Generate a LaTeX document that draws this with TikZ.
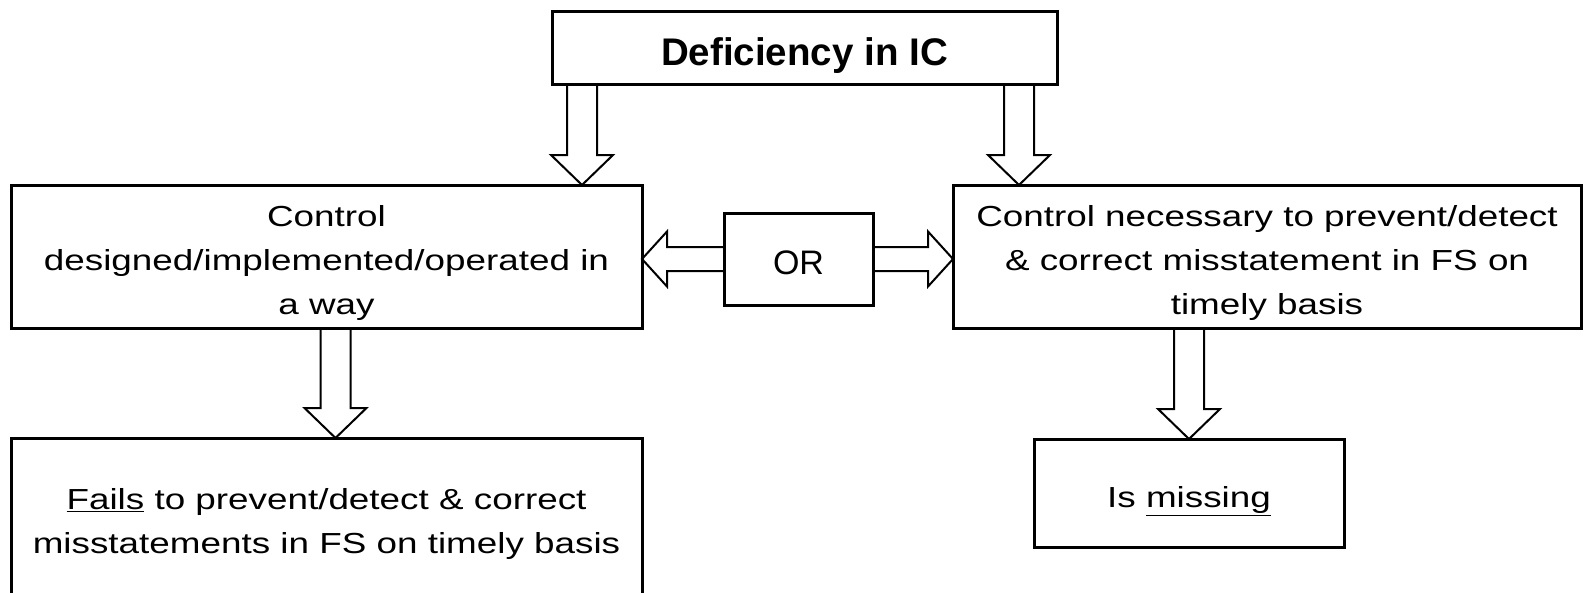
\documentclass[tikz,border=0pt]{standalone}
\usepackage{fontspec}
\setmainfont{Liberation Sans}
\newfontfamily\bodyfont[FakeStretch=1.27]{Liberation Sans}
\newfontfamily\titlefont{Liberation Sans}
\usetikzlibrary{calc}
% invisible strut that sets the height of a node's first text line
\newcommand\padtop[1]{\rule{0pt}{#1}}

\begin{document}
\begin{tikzpicture}[x=1pt,y=-1pt,
  box/.style={draw, line width=3pt, outer sep=0pt, inner sep=0pt, align=center,
    text depth=0pt, font=\bodyfont\fontsize{29}{44}\selectfont},
  % hollow block arrow pointing down (or up) between two points on one vertical
  vblock/.style={line width=2pt, line join=miter,
    to path={let \p1=(\tikztostart), \p2=(\tikztotarget),
      \p3=($(\tikztotarget)!30pt!(\tikztostart)$) in
      (\x1-15pt,\y1) -- (\x1-15pt,\y3) -- (\x1-31pt,\y3) -- (\x2,\y2)
      -- (\x1+31pt,\y3) -- (\x1+15pt,\y3) -- (\x1+15pt,\y1)}},
  % hollow block arrow pointing sideways between two points on one horizontal
  hblock/.style={line width=2pt, line join=miter,
    to path={let \p1=(\tikztostart), \p2=(\tikztotarget),
      \p3=($(\tikztotarget)!25pt!(\tikztostart)$) in
      (\x1,\y1+12pt) -- (\x3,\y1+12pt) -- (\x3,\y1+27.5pt) -- (\x2,\y2)
      -- (\x3,\y1-27.5pt) -- (\x3,\y1-12pt) -- (\x1,\y1-12pt)}}
]
\useasboundingbox (0,0) rectangle (1585,592);
\clip (0,0) rectangle (1585,592);
\fill[white] (0,0) rectangle (1585,592);

% boxes
\node[box, minimum width=505, minimum height=73,
  font=\titlefont\bfseries\fontsize{38.5}{40}\selectfont]
  (top) at (804.5,47.5) {\padtop{35pt}Deficiency in IC};
\node[box, minimum width=631, minimum height=143] (left) at (326.5,256.5)
  {\padtop{28pt}Control\\designed/implemented/operated in\\a way};
\node[box, minimum width=628, minimum height=143] (right) at (1267,256.5)
  {\padtop{28pt}Control necessary to prevent/detect\\\& correct misstatement in FS on\\timely basis};
\node[box, minimum width=149, minimum height=92,
  font=\titlefont\fontsize{34}{36}\selectfont] (alt) at (798.5,259) {\padtop{31pt}OR};
\node[box, minimum width=631, minimum height=159] (fails) at (326.5,517.5)
  {\padtop{28pt}\underline{Fails} to prevent/detect \& correct\\misstatements in FS on timely basis};
\node[box, minimum width=310, minimum height=108] (miss) at (1189,493)
  {\padtop{29pt}Is \underline{missing}};

% connectors
\coordinate (ta) at ($(top.south west)+(30,0)$);
\coordinate (tb) at ($(top.south east)+(-38,0)$);
\coordinate (la) at ($(left.south)+(9,0)$);
\draw[vblock] (ta) to (ta |- left.north);
\draw[vblock] (tb) to (tb |- right.north);
\draw[hblock] (alt.west) to (alt.west -| left.east);
\draw[hblock] (alt.east) to (alt.east -| right.west);
\draw[vblock] (la) to (la |- fails.north);
\draw[vblock] (miss.north |- right.south) to (miss.north);
\end{tikzpicture}
\end{document}
